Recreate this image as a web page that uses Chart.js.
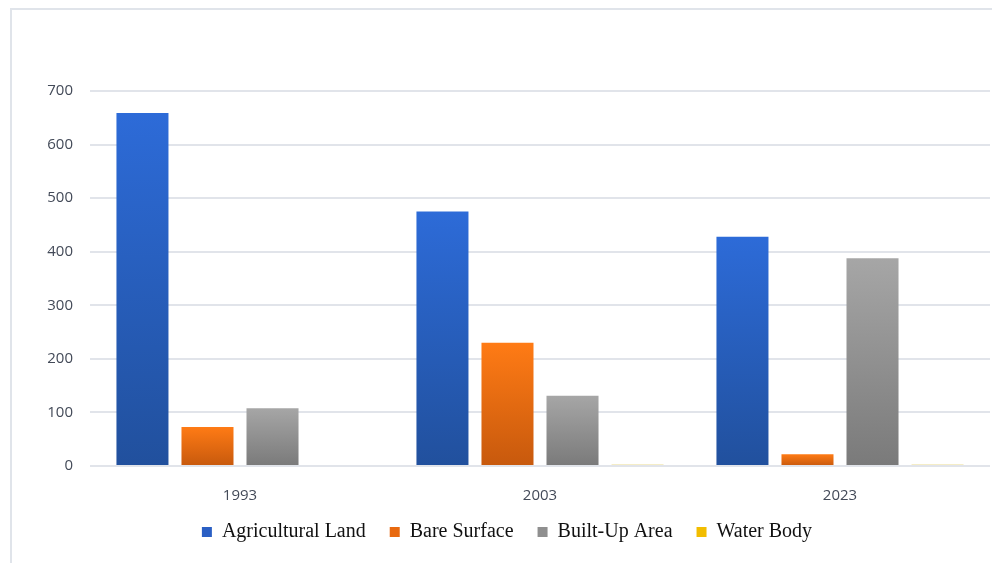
<!DOCTYPE html>
<html>
<head>
<meta charset="utf-8">
<script src="https://cdn.jsdelivr.net/npm/chart.js@4.4.1/dist/chart.umd.min.js"></script>
<style>
  html, body { margin: 0; padding: 0; background: #fff; overflow: hidden; }
  .frame {
    position: absolute; left: 10px; top: 8px; width: 1000px; height: 600px;
    border-left: 2px solid #e0e4ea; border-top: 2px solid #e0e4ea;
  }
  .wrap { position: absolute; left: 0; top: 0; width: 992px; height: 563px; }
</style>
</head>
<body>
<div class="frame"></div>
<div class="wrap"><canvas id="landChart" width="992" height="563"></canvas></div>

<script>
  // data
  const years = ["1993", "2003", "2023"];
  const seriesNames = ["Agricultural Land", "Bare Surface", "Built-Up Area", "Water Body"];
  const agricultural = [659, 475, 428];
  const bareSurface = [73, 230, 22];
  const builtUp = [108, 131, 388];
  const waterBody = [0, 3, 3];
  const yTicks = [0, 100, 200, 300, 400, 500, 600, 700];

  // top / bottom colours of each bar gradient
  const shades = [
    ["#2d6bd8", "#21509d"],
    ["#ff7b15", "#c7590d"],
    ["#a6a6a6", "#7a7a7a"],
    ["#ffc000", "#dca600"]
  ];
  const legendColors = ["#2a5fc4", "#e8690f", "#8f8f8f", "#f2bd00"];

  function barFill(top, bottom, thinColor) {
    return function (c) {
      const chart = c.chart;
      if (!chart.chartArea || c.type !== "data") return top;
      const y = chart.scales.y;
      const y0 = y.getPixelForValue(c.raw);
      const y1 = y.getPixelForValue(0);
      if (y1 - y0 < 4) return thinColor || top;
      const g = chart.ctx.createLinearGradient(0, y0, 0, y1);
      g.addColorStop(0, top);
      g.addColorStop(1, bottom);
      return g;
    };
  }

  const values = [agricultural, bareSurface, builtUp, waterBody];

  new Chart(document.getElementById("landChart"), {
    type: "bar",
    data: {
      labels: years,
      datasets: values.map((v, i) => ({
        label: seriesNames[i],
        data: v,
        backgroundColor: barFill(shades[i][0], shades[i][1], i === 3 ? "#ecdc90" : null),
        borderWidth: 0,
        barPercentage: 0.8,
        categoryPercentage: 0.867
      }))
    },
    options: {
      responsive: false,
      animation: false,
      layout: { padding: { left: 24, right: 2, top: 91, bottom: 11 } },
      scales: {
        x: {
          grid: { display: false, drawTicks: false },
          border: { display: false },
          ticks: {
            padding: 21,
            color: "#434a58",
            font: { family: "'Open Sans'", size: 15 }
          },
          afterFit: function (scale) { scale.height = 37; }
        },
        y: {
          min: 0,
          max: 700,
          afterBuildTicks: function (scale) {
            scale.ticks = yTicks.map((v) => ({ value: v }));
          },
          grid: { color: "#e1e4ea", lineWidth: 2, drawTicks: false },
          border: { display: false },
          ticks: {
            padding: 17,
            color: "#434a58",
            font: { family: "'Open Sans'", size: 15 }
          },
          afterFit: function (scale) { scale.width = 66; }
        }
      },
      plugins: {
        tooltip: { enabled: false },
        legend: {
          position: "bottom",
          labels: {
            boxWidth: 10,
            boxHeight: 10,
            padding: 19,
            color: "#111",
            font: { family: "'Liberation Serif'", size: 20 },
            generateLabels: function (chart) {
              const items = Chart.defaults.plugins.legend.labels.generateLabels(chart);
              items.forEach((it, i) => {
                it.fillStyle = legendColors[i];
                it.strokeStyle = legendColors[i];
                it.lineWidth = 0;
                if (i < items.length - 1) it.text = it.text + " ";
              });
              return items;
            }
          }
        }
      }
    }
  });
</script>
</body>
</html>
